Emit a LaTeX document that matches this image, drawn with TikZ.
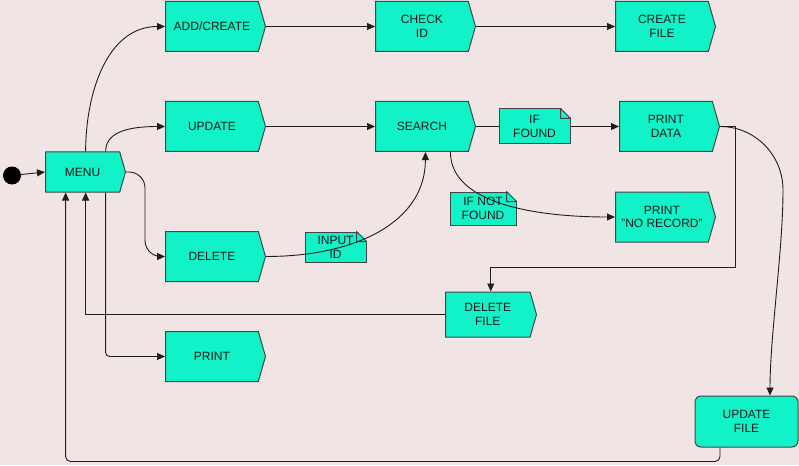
\documentclass[tikz,border=0pt]{standalone}
\usepackage{fontspec}
\setmainfont{Liberation Sans}
\usetikzlibrary{shapes.symbols,arrows.meta,calc}
\definecolor{bgc}{HTML}{F1E4E4}
\definecolor{turq}{HTML}{12F2C8}
\definecolor{edgec}{HTML}{454545}
\definecolor{linec}{HTML}{1E1E1E}
\definecolor{txtc}{HTML}{1A1A1A}
% folded top-right corner of a note box
\newcommand\notefold[1]{%
  \fill[bgc] ([xshift=-10pt,yshift=1pt]#1.north east) -- ([xshift=1pt,yshift=1pt]#1.north east)
     -- ([xshift=1pt,yshift=-10pt]#1.north east) -- cycle;
  \draw[fill=turq, draw=edgec, line width=1pt, line join=round]
     ([xshift=-10pt]#1.north east) -- ([xshift=-10pt,yshift=-10pt]#1.north east)
     -- ([yshift=-10pt]#1.north east) -- cycle;}
\begin{document}
\begin{tikzpicture}[x=1pt,y=-1pt,
  lbl/.style={font=\fontsize{12}{13.8}\selectfont, text=txtc, align=center},
  proc/.style={lbl, signal, signal to=east, signal pointer angle=148, fill=turq,
    draw=edgec, line width=1pt, inner sep=0pt, minimum width=100pt,
    minimum height=50pt, anchor=west},
  note/.style={lbl, rectangle, fill=turq, draw=edgec, line width=1pt, inner sep=0pt},
  endbox/.style={lbl, rectangle, rounded corners=6pt, fill=turq, draw=edgec,
    line width=1pt, minimum width=103pt, minimum height=51pt},
  flow/.style={draw=linec, line width=0.9pt, -{Triangle[length=8pt,width=7pt]}},
  plain/.style={draw=linec, line width=0.9pt},
]
\fill[bgc] (0,0) rectangle (799,465);
\useasboundingbox (0,0) rectangle (799,465);

% start point and process boxes
\node[circle, fill=black, minimum size=18pt, inner sep=0pt] (start) at (12,175.5) {};
\node[proc, minimum width=80pt, minimum height=40pt] (menu) at (45,172) {MENU};
\node[proc] (add) at (165,26.5) {ADD/CREATE};
\node[proc] (check) at (375,26.5) {CHECK\\ID};
\node[proc] (create) at (615,26.5) {CREATE\\FILE};
\node[proc] (update) at (165,126.5) {UPDATE};
\node[proc] (search) at (375,126.5) {SEARCH};
\node[proc] (pdata) at (619,126.5) {PRINT\\DATA};
\node[proc] (norec) at (615,217) {PRINT\\"NO RECORD"};
\node[proc] (delete) at (165,256.5) {DELETE};
\node[proc, minimum width=91pt, minimum height=45pt] (delfile) at (445,314.5) {DELETE\\FILE};
\node[proc] (print) at (165,356.5) {PRINT};
\node[endbox] (updfile) at (746.5,421.5) {UPDATE\\FILE};

% notes
\node[note, minimum width=71pt, minimum height=35pt] (found) at (534.5,126.5) {IF\\FOUND};
\node[note, minimum width=66pt, minimum height=33pt] (notfound) at (483,208.5) {IF NOT\\FOUND};
\node[note, minimum width=61pt, minimum height=30pt] (input) at (335.5,247) {INPUT\\ID};
\notefold{found}
\notefold{notfound}
\notefold{input}

% helper points for routed connectors
\coordinate (turn) at (735,267);
\coordinate (swing) at (783,190);

% connectors
\draw[flow] (start) -- (menu.west);
\draw[flow] ([xshift=3pt]menu.north) .. controls +(0,-58) and +(-58,0) .. (add.west);
\draw[flow] ([xshift=23pt]menu.north) .. controls +(0,-18) and +(-40,0) .. (update.west);
\draw[flow, rounded corners=16pt] (menu.east) -- ([xshift=19pt]menu.east) |- (delete.west);
\draw[flow, rounded corners=4pt] ([xshift=23pt]menu.south) |- (print.west);
\draw[flow] (delfile.west) -| ([xshift=3pt]menu.south);
\draw[flow, rounded corners=5pt] ([xshift=25.5pt]updfile.south west) -- ++(0,14)
   -| ([xshift=-17pt]menu.south);
\draw[flow] (add.east) -- (check.west);
\draw[flow] (check.east) -- (create.west);
\draw[flow] (update.east) -- (search.west);
\draw[plain] (search.east) -- (found.west);
\draw[flow] (found.east) -- (pdata.west);
\draw[flow] ([xshift=28.5pt]search.south) .. controls +(0,53) and +(-75,0) .. (norec.west);
\draw[flow] (delete.east) .. controls +(90,0) and +(0,70) .. ([xshift=3.5pt]search.south);
\draw[flow] (pdata.east) -| (turn) -| ([xshift=3pt]delfile.north);
\draw[flow] (pdata.east) .. controls +(35,0) and +(0,-35) .. (swing)
   .. controls +(0,60) and +(0,-60) .. ([xshift=23.5pt]updfile.north);
\end{tikzpicture}
\end{document}
